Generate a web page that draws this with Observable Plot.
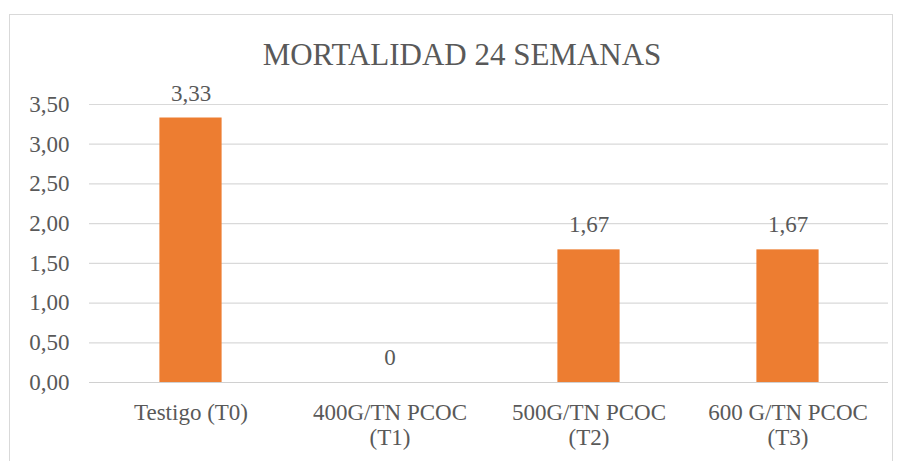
<!DOCTYPE html>
<html><head><meta charset="utf-8">
<script src="https://cdn.jsdelivr.net/npm/d3@7"></script>
<script src="https://cdn.jsdelivr.net/npm/@observablehq/plot@0.6"></script>
<style>
html,body{margin:0;padding:0;background:#fff;overflow:hidden}
#wrap{position:relative;width:902px;height:461px;color:#595959}
#frame{position:absolute;left:9px;top:14px;width:884px;height:470px;border:1px solid #d9d9d9;box-sizing:border-box;pointer-events:none}
#title{height:78px;box-sizing:border-box;padding-top:39px;padding-left:22px;line-height:31px;font-size:31px;text-align:center;white-space:nowrap}
#chart svg{display:block}
</style></head><body>
<div id="wrap"><div id="frame"></div><div id="title" style="font-family:'Liberation Serif'">MORTALIDAD 24 SEMANAS</div><div id="chart"></div></div>
<script>
const categories = ["T0", "T1", "T2", "T3"];
const tickLabels = ["Testigo (T0)", "400G/TN PCOC\n(T1)", "500G/TN PCOC\n(T2)", "600 G/TN PCOC\n(T3)"];
const values = [3.33, 0, 1.67, 1.67];
const yTicks = [0, 0.5, 1, 1.5, 2, 2.5, 3, 3.5];

const data = categories.map((c, i) => ({cat: c, value: values[i]}));
const fmtVal = v => v === 0 ? "0" : v.toFixed(2).replace(".", ",");
const FONT = "Liberation Serif";

const chart = Plot.plot({
  width: 902,
  height: 383,
  marginTop: 26,
  marginBottom: 79,
  marginLeft: 89,
  marginRight: 14,
  style: {fontFamily: FONT, fontSize: "23px", color: "#595959", background: "transparent"},
  x: {domain: categories, padding: 0},
  y: {domain: [0, 3.5]},
  marks: [
    Plot.gridY(yTicks, {stroke: "#d9d9d9", strokeOpacity: 1, strokeWidth: 1.2}),
    Plot.barY(data, {x: "cat", y: "value", fill: "#ED7D31", insetLeft: 68.4, insetRight: 68.4}),
    Plot.ruleY([0], {stroke: "#d0d0d0", strokeWidth: 1.2}),
    Plot.text(data, {x: "cat", y: "value", text: d => fmtVal(d.value), dy: -17.5, lineAnchor: "bottom", fontSize: 23, fill: "#595959"}),
    Plot.axisY({ticks: yTicks, tickSize: 0, tickPadding: 20, tickFormat: d => d.toFixed(2).replace(".", ","), fontSize: 23, label: null}),
    Plot.axisX({tickSize: 0, tickPadding: 19.7, tickFormat: d => tickLabels[categories.indexOf(d)], fontSize: 23, lineHeight: 1.1, label: null})
  ]
});
document.getElementById("chart").appendChild(chart);
</script>
</body></html>
